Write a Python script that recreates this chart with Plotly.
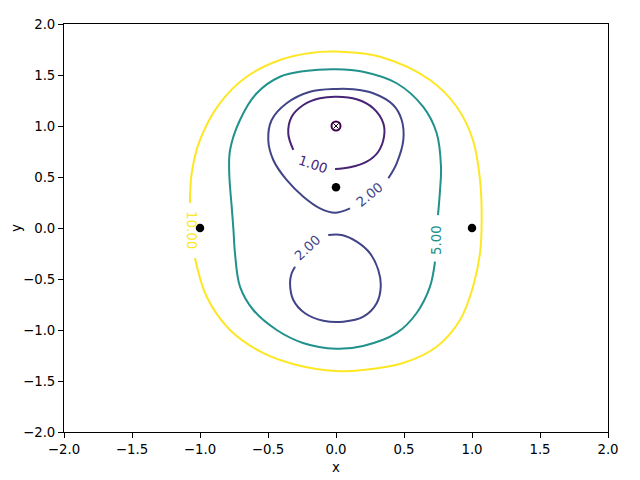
import plotly.graph_objects as go

# ---- contour line segments (data coordinates) ----
# level 10.00 (yellow)
c10_x = [-1.074, -1.061, -1.0, -0.853, -0.657, -0.412, -0.191, 0.0, 0.324, 0.691, 0.887, 1.007,
         1.059, 1.071, 1.059, 1.007, 0.912, 0.740, 0.493, 0.199, 0.0, -0.289, -0.537, -0.779,
         -0.951, -1.037]
c10_y = [0.245, 0.539, 0.863, 1.225, 1.483, 1.647, 1.716, 1.730, 1.679, 1.451, 1.189, 0.863,
         0.471, 0.078, -0.245, -0.578, -0.902, -1.164, -1.324, -1.392, -1.402, -1.343, -1.225,
         -1.0, -0.674, -0.294]
# level 5.00 (teal)
c5_x = [0.75, 0.765, 0.772, 0.740, 0.640, 0.446, 0.199, 0.0, -0.228, -0.412, -0.583, -0.706,
        -0.779, -0.785, -0.767, -0.754, -0.743, -0.706, -0.608, -0.436, -0.243, 0.0, 0.199,
        0.446, 0.593, 0.691, 0.728]
c5_y = [0.127, 0.373, 0.601, 0.931, 1.189, 1.419, 1.532, 1.557, 1.539, 1.483, 1.321, 1.059,
        0.765, 0.536, 0.209, -0.02, -0.245, -0.575, -0.804, -1.0, -1.127, -1.184, -1.157,
        -1.029, -0.833, -0.575, -0.330]
# level 2.00, upper loop
c2a_x = [0.385, 0.446, 0.495, 0.483, 0.421, 0.274, 0.127, 0.005, -0.191, -0.363, -0.473,
         -0.498, -0.461, -0.363, -0.240, -0.118, -0.007, 0.103]
c2a_y = [0.487, 0.634, 0.863, 1.059, 1.206, 1.321, 1.360, 1.363, 1.336, 1.223, 1.059,
         0.863, 0.667, 0.471, 0.307, 0.193, 0.150, 0.193]
# level 2.00, lower loop
c2b_x = [-0.057, 0.042, 0.152, 0.25, 0.311, 0.329, 0.299, 0.201, 0.054, -0.093, -0.228,
         -0.314, -0.338, -0.326, -0.301]
c2b_y = [-0.069, -0.069, -0.134, -0.248, -0.412, -0.575, -0.738, -0.870, -0.919, -0.909,
         -0.836, -0.706, -0.542, -0.444, -0.379]
# level 1.00
c1_x = [-0.314, -0.351, -0.326, -0.240, -0.118, 0.005, 0.152, 0.274, 0.348, 0.353, 0.311,
        0.226, 0.103, -0.007]
c1_y = [0.765, 0.928, 1.091, 1.206, 1.272, 1.287, 1.262, 1.174, 1.026, 0.895, 0.748,
        0.650, 0.595, 0.578]

# inline contour labels
label_text = ["10.00", "5.00", "2.00", "2.00", "1.00"]
label_x = [-1.059, 0.735, 0.25, -0.206, -0.169]
label_y = [-0.02, -0.118, 0.324, -0.196, 0.618]
label_angle = [90, -90, -39, -43, 19]
label_color = ["#fde725", "#21918c", "#414487", "#414487", "#482475"]

# points and minimum
pts_x = [-1.0, 1.0, 0.0]
pts_y = [0.0, 0.0, 0.4]
min_x = [0.0]
min_y = [1.0]

x_ticks = [-2.0, -1.5, -1.0, -0.5, 0.0, 0.5, 1.0, 1.5, 2.0]
y_ticks = [-2.0, -1.5, -1.0, -0.5, 0.0, 0.5, 1.0, 1.5, 2.0]

fig = go.Figure()
segments = [
    (c10_x, c10_y, "#fde725"),
    (c5_x, c5_y, "#21918c"),
    (c2a_x, c2a_y, "#414487"),
    (c2b_x, c2b_y, "#414487"),
    (c1_x, c1_y, "#482475"),
]
for sx, sy, col in segments:
    fig.add_trace(go.Scatter(x=sx, y=sy, mode="lines",
                             line=dict(color=col, width=2, shape="spline", smoothing=1.0),
                             hoverinfo="skip", showlegend=False))

fig.add_trace(go.Scatter(x=min_x, y=min_y, mode="markers",
                         marker=dict(symbol="circle-open", size=9, color="#440154",
                                     line=dict(width=2, color="#440154")),
                         showlegend=False))
fig.add_trace(go.Scatter(x=min_x, y=min_y, mode="markers",
                         marker=dict(symbol="x-thin-open", size=5, color="black",
                                     line=dict(width=1, color="black")),
                         showlegend=False))
fig.add_trace(go.Scatter(x=pts_x, y=pts_y, mode="markers",
                         marker=dict(symbol="circle", size=8.5, color="black"),
                         showlegend=False))

for t, lx, ly, a, c in zip(label_text, label_x, label_y, label_angle, label_color):
    fig.add_annotation(x=lx, y=ly, xref="x", yref="y", text=t, showarrow=False,
                       xanchor="center", yanchor="middle",
                       textangle=a, font=dict(family="DejaVu Sans", size=13.3, color=c))

fig.add_annotation(x=0.5, y=-0.0858, xref="paper", yref="paper", text="x", showarrow=False,
                   xanchor="center", yanchor="middle",
                   font=dict(family="DejaVu Sans", size=13.3, color="black"))
fig.add_annotation(x=-0.0882, y=0.5, xref="paper", yref="paper", text="y", showarrow=False,
                   xanchor="center", yanchor="middle",
                   textangle=-90, font=dict(family="DejaVu Sans", size=13.3, color="black"))

axis_common = dict(showgrid=False, zeroline=False, showline=True, mirror=True,
                   linecolor="black", linewidth=1, ticks="outside", ticklen=5,
                   tickwidth=1, tickcolor="black", tickformat=".1f",
                   tickfont=dict(family="DejaVu Sans", size=13.3, color="black"))
fig.update_xaxes(range=[-2, 2], tickvals=x_ticks, **axis_common)
fig.update_yaxes(range=[-2, 2], tickvals=y_ticks, **axis_common)

# page body has an 8px margin, so shift the plot area by 8px
fig.update_layout(width=640, height=480, plot_bgcolor="white", paper_bgcolor="white",
                  margin=dict(l=56, r=40, t=16, b=56, autoexpand=False))

fig.write_html("out.html")
